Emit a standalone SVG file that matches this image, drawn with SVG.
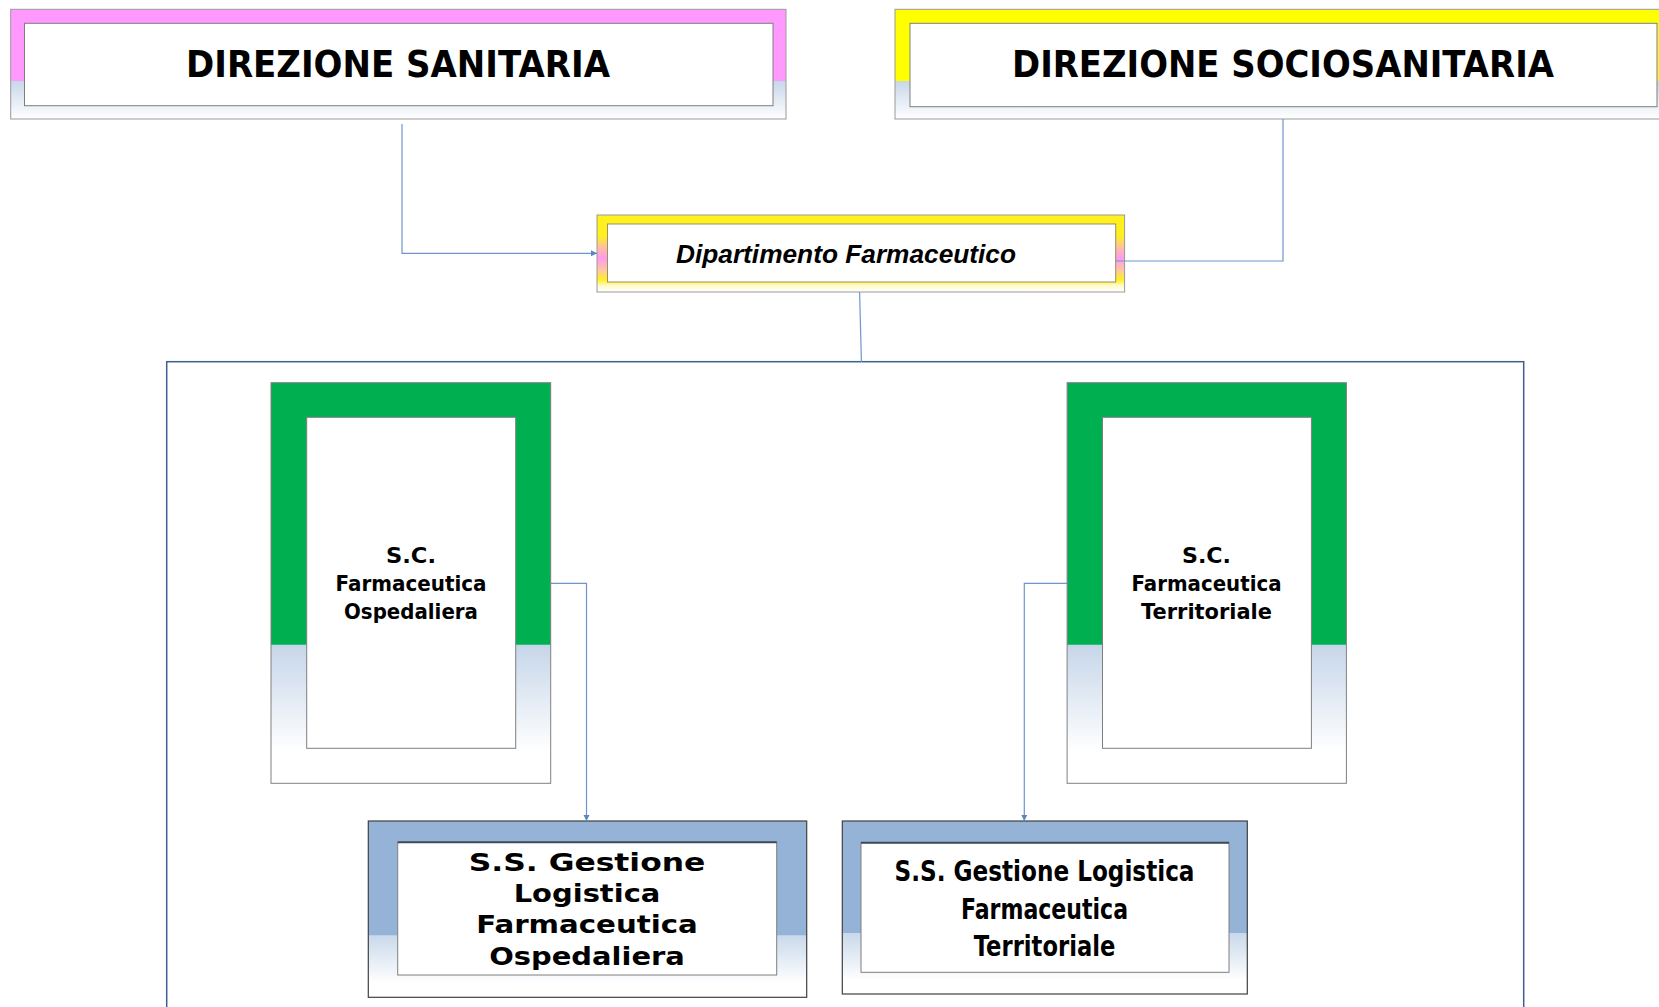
<svg xmlns="http://www.w3.org/2000/svg" width="1659" height="1007" viewBox="0 0 1659 1007">
<style>
.comic{font-family:"DejaVu Sans","Liberation Sans",sans-serif;font-weight:bold;fill:#000;text-anchor:middle}
.outer{stroke:#9A9A9A;stroke-width:1}
.inner{fill:#fff;stroke:#7F7F7F;stroke-width:1}
.conn{fill:none;stroke:#6F95CC;stroke-width:1.2}
</style>
<defs>
<linearGradient id="gPink" x1="0" y1="0" x2="0" y2="1">
<stop offset="0" stop-color="#FF99FF"/><stop offset="0.654" stop-color="#FF99FF"/>
<stop offset="0.656" stop-color="#C8D7EA"/><stop offset="1" stop-color="#FFFFFF"/>
</linearGradient>
<linearGradient id="gYellow" x1="0" y1="0" x2="0" y2="1">
<stop offset="0" stop-color="#FFFF00"/><stop offset="0.654" stop-color="#FFFF00"/>
<stop offset="0.656" stop-color="#C8D7EA"/><stop offset="1" stop-color="#FFFFFF"/>
</linearGradient>
<linearGradient id="gDip" x1="0" y1="0" x2="0" y2="1">
<stop offset="0" stop-color="#FFF01E"/><stop offset="0.27" stop-color="#FFF01E"/>
<stop offset="0.42" stop-color="#FFC0A0"/><stop offset="0.56" stop-color="#FF99F0"/>
<stop offset="0.72" stop-color="#FFC8A0"/><stop offset="0.84" stop-color="#FFF01E"/>
<stop offset="0.92" stop-color="#FFFBD0"/><stop offset="1" stop-color="#FFFFFF"/>
</linearGradient>
<linearGradient id="gGreen" x1="0" y1="0" x2="0" y2="1">
<stop offset="0" stop-color="#00B050"/><stop offset="0.653" stop-color="#00B050"/>
<stop offset="0.655" stop-color="#C6D6E9"/><stop offset="0.92" stop-color="#FFFFFF"/><stop offset="1" stop-color="#FFFFFF"/>
</linearGradient>
<linearGradient id="gBlue" x1="0" y1="0" x2="0" y2="1">
<stop offset="0" stop-color="#95B3D7"/><stop offset="0.648" stop-color="#95B3D7"/>
<stop offset="0.65" stop-color="#C9D9EB"/><stop offset="0.92" stop-color="#FFFFFF"/><stop offset="1" stop-color="#FFFFFF"/>
</linearGradient>
<marker id="arr" markerUnits="userSpaceOnUse" markerWidth="8" markerHeight="8" refX="6" refY="3" orient="auto">
<path d="M0,0 L6,3 L0,6 Z" fill="#5B85C5"/>
</marker>
</defs>

<g id="container">
<rect x="166.7" y="361.7" width="1357" height="700" fill="none" stroke="#3B6090" stroke-width="1.5"/>
</g>

<g id="dir-sanitaria">
<rect class="outer" x="10.7" y="9.3" width="775.3" height="109.7" fill="url(#gPink)"/>
<rect class="inner" x="24.5" y="23.3" width="748.5" height="82.4"/>
<text class="comic" x="398" y="77.3" font-size="37" textLength="424" lengthAdjust="spacingAndGlyphs">DIREZIONE SANITARIA</text>
</g>

<g id="dir-sociosanitaria">
<rect class="outer" x="895" y="9.3" width="780" height="109.7" fill="url(#gYellow)"/>
<rect class="inner" x="910" y="23.3" width="747" height="83.4"/>
<text class="comic" x="1283" y="77.3" font-size="37" textLength="542" lengthAdjust="spacingAndGlyphs">DIREZIONE SOCIOSANITARIA</text>
</g>

<g id="dipartimento">
<rect class="outer" x="597" y="215" width="527.6" height="77" fill="url(#gDip)"/>
<rect x="607.5" y="224" width="508.2" height="58" fill="#fff" stroke="#9A9060" stroke-width="1"/>
<text x="846" y="263" font-family="'Liberation Sans',Arial,sans-serif" font-weight="bold" font-style="italic" font-size="26" text-anchor="middle" textLength="340" lengthAdjust="spacingAndGlyphs">Dipartimento Farmaceutico</text>
</g>

<g id="sc-ospedaliera">
<rect x="271" y="382.7" width="279.7" height="400.6" fill="url(#gGreen)" stroke="#808080" stroke-width="1"/>
<rect class="inner" x="306.7" y="417.3" width="209" height="331"/>
<text class="comic" font-size="22" x="411" y="562.7" textLength="50" lengthAdjust="spacingAndGlyphs">S.C.</text>
<text class="comic" font-size="22" x="411" y="591" textLength="151" lengthAdjust="spacingAndGlyphs">Farmaceutica</text>
<text class="comic" font-size="22" x="411" y="619" textLength="134" lengthAdjust="spacingAndGlyphs">Ospedaliera</text>
</g>

<g id="sc-territoriale">
<rect x="1067.1" y="382.7" width="279.3" height="400.6" fill="url(#gGreen)" stroke="#808080" stroke-width="1"/>
<rect class="inner" x="1102.5" y="417.3" width="208.9" height="331"/>
<text class="comic" font-size="22" x="1206.5" y="562.7" textLength="49" lengthAdjust="spacingAndGlyphs">S.C.</text>
<text class="comic" font-size="22" x="1206.5" y="591" textLength="150" lengthAdjust="spacingAndGlyphs">Farmaceutica</text>
<text class="comic" font-size="22" x="1206.5" y="619" textLength="131" lengthAdjust="spacingAndGlyphs">Territoriale</text>
</g>

<g id="ss-ospedaliera">
<rect x="368.3" y="821" width="438.4" height="176.3" fill="url(#gBlue)" stroke="#404040" stroke-width="1.2"/>
<rect class="inner" x="397.7" y="842.3" width="379" height="132.7"/>
<line x1="397.7" y1="842.3" x2="776.7" y2="842.3" stroke="#3F4A58" stroke-width="2"/>
<text class="comic" font-size="25" x="587" y="871" textLength="236.7" lengthAdjust="spacingAndGlyphs">S.S.  Gestione</text>
<text class="comic" font-size="25" x="587" y="901.7" textLength="146.7" lengthAdjust="spacingAndGlyphs">Logistica</text>
<text class="comic" font-size="25" x="587" y="933.3" textLength="221.7" lengthAdjust="spacingAndGlyphs">Farmaceutica</text>
<text class="comic" font-size="25" x="587" y="965" textLength="195.7" lengthAdjust="spacingAndGlyphs">Ospedaliera</text>
</g>

<g id="ss-territoriale">
<rect x="842.3" y="821" width="405" height="173" fill="url(#gBlue)" stroke="#404040" stroke-width="1.2"/>
<rect class="inner" x="861" y="842.7" width="368" height="129.6"/>
<line x1="861" y1="842.7" x2="1229" y2="842.7" stroke="#3F4A58" stroke-width="2"/>
<text class="comic" font-size="29" x="1044.5" y="881" textLength="300" lengthAdjust="spacingAndGlyphs">S.S. Gestione Logistica</text>
<text class="comic" font-size="29" x="1044.5" y="919" textLength="167" lengthAdjust="spacingAndGlyphs">Farmaceutica</text>
<text class="comic" font-size="29" x="1044.5" y="955.7" textLength="141.7" lengthAdjust="spacingAndGlyphs">Territoriale</text>
</g>

<g id="connectors">
<path class="conn" d="M402,124 V253.3 H597" marker-end="url(#arr)"/>
<path class="conn" d="M1283,119 V261 H1115"/>
<path class="conn" d="M859.6,292 L861.4,362"/>
<path class="conn" d="M550.7,583.3 H586.5 V821" marker-end="url(#arr)"/>
<path class="conn" d="M1067,583.3 H1024.3 V821" marker-end="url(#arr)"/>
</g>
</svg>
